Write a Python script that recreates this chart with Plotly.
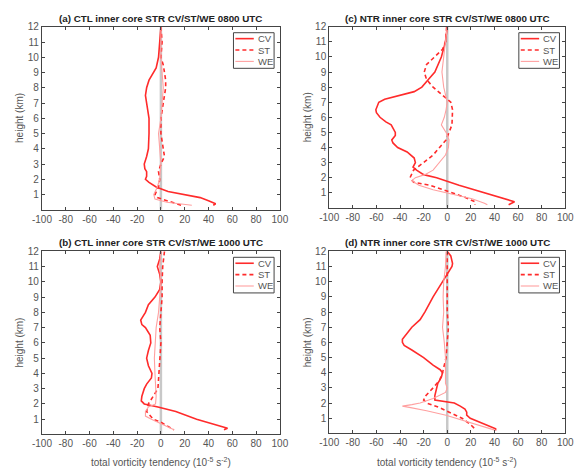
import plotly.graph_objects as go

# ---------------- data (x = tendency, y = height km) ----------------
a_cv_h = [12, 11, 10, 9.3, 9, 8.5, 8, 7.5, 7, 6, 5, 4, 3.5, 3, 2.7, 2.5, 2.2, 2, 1.8, 1.5, 1.2, 1, 0.8, 0.6, 0.4, 0.3]
a_cv_x = [0, -1, -2, -4, -6, -10, -12, -13, -12, -10, -10, -10.5, -12, -14, -13.5, -12, -12, -13, -10, -4, 6, 19, 33, 40, 46, 44]
a_st_h = [12, 11, 10, 9.5, 8.5, 8, 7.5, 7, 6, 5, 4, 3.5, 3, 2.5, 2, 1.5, 1.0, 0.8, 0.6, 0.4, 0.3]
a_st_x = [0, 1, 0, 2, 4, 4, 3, 2, 0, 0, 2, 3, 0, -2, -1, -2, -5, -3, 5, 12, 17]
a_we_h = [12, 10, 9, 8, 7, 6, 5, 4, 3, 2, 1.5, 1.0, 0.7, 0.5, 0.3]
a_we_x = [0, 0, 1, 2, 1, 0, -2, -1, 0, -1, -3, -6, -5, 5, 26]

c_cv_h = [12, 11, 10, 9, 8.5, 8, 7.7, 7.5, 7.2, 7.0, 6.5, 6.3, 6, 5.7, 5.5, 5, 4.8, 4.5, 4.3, 4, 3.7, 3.3, 3, 2.7, 2.5, 2.2, 2, 1.5, 1, 0.6, 0.4, 0.2]
c_cv_x = [0, -1.5, -5, -10.5, -16, -21.5, -28, -39, -53, -58, -60.5, -60, -57, -52, -47.5, -44, -44, -47, -46, -42, -34, -28, -27, -29, -26, -20, -9, 10, 32, 48, 57, 52]
c_st_h = [12, 11, 10.5, 10, 9.5, 9, 8.5, 8, 7.5, 7, 6.5, 6, 5.5, 5, 4.5, 4, 3.5, 3, 2.5, 2, 1.7, 1.5, 1.0, 0.7, 0.4, 0.2]
c_st_x = [-0.5, -1.5, -4, -10.5, -17.5, -19.5, -17.5, -12, -4, 3, 4.5, 4.5, 4, 1.5, -1, -6.5, -12, -20, -28.5, -31.5, -28.5, -15, 4.5, 15, 23.5, 23.5]
c_we_h = [12, 11, 10, 9, 8, 7, 6.5, 6, 5.5, 5, 4.5, 4, 3.5, 3, 2.5, 2.2, 2, 1.8, 1.5, 1.2, 1.0, 0.6, 0.3, 0.2]
c_we_x = [0, -1.5, -3, -4.5, -3, 0, -1, -2.5, -5, -1, 1.5, 1, -1.5, -6.5, -12, -19, -27, -30, -24, -12, -1, 21, 31.5, 34]

b_cv_h = [12, 11.5, 11, 10.5, 10, 9.5, 9, 8.5, 8, 7.5, 7.2, 7, 6.5, 6, 5.5, 5, 4.5, 4, 3.7, 3.3, 3, 2.5, 2.2, 2, 1.8, 1.5, 1, 0.7, 0.5, 0.4, 0.3]
b_cv_x = [0, -1, -3, -1, 0, -1, -5, -10.5, -13, -17, -16, -13, -9, -8.5, -10.5, -12, -10.5, -7.5, -8, -12, -14, -16, -16.5, -14, -2.5, 12.5, 30, 42, 52, 56, 53]
b_st_h = [12, 11, 10, 9, 8, 7, 6, 5, 4, 3, 2.5, 2, 1.5, 1, 0.8, 0.5, 0.3]
b_st_x = [3, 1.5, 1, 1, 0, -1, 0, -1, -2, -2.5, -6.5, -10.5, -12, -6.5, 0, 7, 11]
b_we_h = [12, 11, 10, 9, 8, 7, 6, 5, 4, 3, 2.5, 2, 1.8, 1.5, 1.2, 1, 0.7, 0.5, 0.3]
b_we_x = [0, -1, 0, -1, -2, -4, -5, -5.5, -5, -4, -4, -4.5, -10.5, -13, -13, -8, 0, 5.5, 11]

d_cv_h = [12, 11.7, 11.2, 11, 10.5, 10, 9, 8, 7.5, 7, 6.5, 6.2, 6, 5.8, 5.5, 5, 4.5, 4.2, 4, 3.7, 3.3, 3, 2.5, 2.2, 2.1, 2, 1.8, 1.6, 1.4, 1.2, 1, 0.8, 0.5, 0.3, 0.2]
d_cv_x = [0, 3, 4.5, 4, 0, -4, -12, -19, -23, -30, -35, -38, -38, -36.5, -30, -20, -12, -6, -4, -5, -8, -9, -10.5, -10.5, -1, 6, 11, 15, 16.5, 16.5, 19.5, 26, 36, 41, 41]
d_st_h = [12, 11, 10, 9, 8, 7, 6, 5, 4, 3.5, 3, 2.5, 2.2, 2, 1.7, 1.3, 1, 0.6, 0.3]
d_st_x = [0, 0, 0, -0.5, 0, 1, 0, -1, -4, -6.5, -12, -18, -20, -17.5, -6.5, 4.5, 12.5, 19.5, 23.5]
d_we_h = [12, 11, 10, 9, 8, 7, 6, 5, 4, 3.3, 3, 2.7, 2.3, 2, 1.9, 1.8, 1.7, 1.5, 1.2, 1, 0.6, 0.3, 0.2]
d_we_x = [-1, -1.5, -3, -3.5, -3, -4, -2.5, -1.5, -1.5, -1.5, 0, -1.5, -12, -23, -30, -38, -31, -17.5, -1, 7, 23.5, 37, 41]

titles = ["(a) CTL inner core STR CV/ST/WE 0800 UTC",
          "(c) NTR inner core STR CV/ST/WE 0800 UTC",
          "(b) CTL inner core STR CV/ST/WE 1000 UTC",
          "(d) NTR inner core STR CV/ST/WE 1000 UTC"]
x_ticks = [-100, -80, -60, -40, -20, 0, 20, 40, 60, 80, 100]
x_ticktext = ["-100", "-80", "-60", "-40", "-20", "0", "20", "40", "60", "80", "100"]
y_ticks = list(range(1, 13))
series_names = ["CV", "ST", "WE"]
y_title = "height (km)"
x_title = "total vorticity tendency (10<sup>-5</sup> s<sup>-2</sup>)"

panels = [
    (a_cv_x, a_cv_h, a_st_x, a_st_h, a_we_x, a_we_h),
    (c_cv_x, c_cv_h, c_st_x, c_st_h, c_we_x, c_we_h),
    (b_cv_x, b_cv_h, b_st_x, b_st_h, b_we_x, b_we_h),
    (d_cv_x, d_cv_h, d_st_x, d_st_h, d_we_x, d_we_h),
]

W, H = 582, 473
# pixel boxes: (left, right, top, bottom)
boxes = [(33, 279, 22, 207), (330, 574, 22, 205), (33, 279, 249, 434), (330, 574, 249, 433)]

FONT = "Liberation Sans, Arial, sans-serif"
GREY = "#555555"
styles = [dict(color="#ff2b2b", width=1.6),
          dict(color="#ff2b2b", width=1.6, dash="4px,3px"),
          dict(color="#ffa0a0", width=1.1)]


def px(xp):
    return xp / W


def py(yp):
    return 1 - yp / H


fig = go.Figure()
layout = dict(width=W, height=H, margin=dict(l=0, r=0, t=0, b=0),
              paper_bgcolor="white", plot_bgcolor="white", showlegend=False,
              font=dict(family=FONT, size=10, color=GREY))
annotations = []
shapes = []

for i, (p, box) in enumerate(zip(panels, boxes)):
    n = "" if i == 0 else str(i + 1)
    L, R, T, B = box
    # zero line
    shapes.append(dict(type="line", xref="x" + n, yref="y" + n, x0=0, x1=0, y0=0, y1=12,
                       line=dict(color="#c8c8c8", width=2.5), layer="below"))
    for k in range(3):
        fig.add_trace(go.Scatter(x=p[2 * k], y=p[2 * k + 1], mode="lines", name=series_names[k],
                                 line=styles[k], xaxis="x" + n, yaxis="y" + n))
    axcommon = dict(showline=True, linecolor="#444444", linewidth=1, mirror="ticks",
                    ticks="inside", ticklen=3, tickcolor="#444444", showgrid=False, zeroline=False,
                    tickfont=dict(family=FONT, size=10, color=GREY))
    layout["xaxis" + n] = dict(domain=[px(L), px(R)], range=[-100, 100], tickvals=x_ticks,
                               ticktext=x_ticktext, anchor="y" + n, **axcommon)
    layout["yaxis" + n] = dict(domain=[py(B), py(T)], range=[0, 12], tickvals=y_ticks,
                               anchor="x" + n, **axcommon)
    # y title
    annotations.append(dict(text=y_title, x=px(L - 23), y=py((T + B) / 2), xref="paper", yref="paper",
                            xanchor="center", yanchor="middle", textangle=-90, showarrow=False,
                            font=dict(family=FONT, size=10, color=GREY)))
    if i >= 2:
        annotations.append(dict(text=x_title, x=px((L + R) / 2), y=py(462), xref="paper", yref="paper",
                                xanchor="center", yanchor="middle", showarrow=False,
                                font=dict(family=FONT, size=10, color=GREY)))
    annotations.append(dict(text="<b>" + titles[i] + "</b>", x=px((L + R) / 2), y=py(T - 1),
                            xref="paper", yref="paper", xanchor="center", yanchor="bottom",
                            showarrow=False, font=dict(family=FONT, size=9.8, color="#222222")))
    # manual legend box
    lx0, lx1, ly0, ly1 = R - 48, R - 6, T + 6, T + 42
    shapes.append(dict(type="rect", xref="paper", yref="paper", x0=px(lx0), x1=px(lx1),
                       y0=py(ly1), y1=py(ly0), line=dict(color="#444444", width=1),
                       fillcolor="white"))
    for k in range(3):
        ry = T + 12 + 11.5 * k
        shapes.append(dict(type="line", xref="paper", yref="paper", x0=px(lx0 + 2), x1=px(lx0 + 21),
                           y0=py(ry), y1=py(ry), line=styles[k]))
        annotations.append(dict(text=series_names[k], x=px(lx0 + 23), y=py(ry), xref="paper",
                                yref="paper", xanchor="left", yanchor="middle", showarrow=False,
                                font=dict(family=FONT, size=9.5, color=GREY)))

layout["annotations"] = annotations
layout["shapes"] = shapes
fig.update_layout(**layout)
fig.write_html("out.html")
